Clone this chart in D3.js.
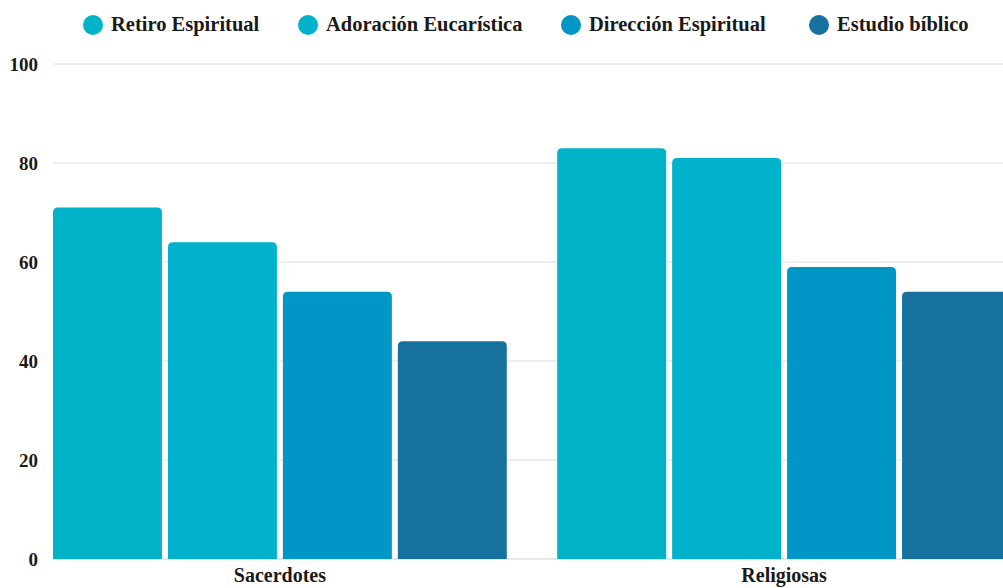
<!DOCTYPE html>
<html>
<head>
<meta charset="utf-8">
<script src="https://cdn.jsdelivr.net/npm/d3@7"></script>
<style>
  body { margin: 0; background: #fff; }
  svg text { font-family: 'Liberation Serif', 'Times New Roman', Tinos, 'DejaVu Serif', serif; font-weight: bold; fill: #1a1a1a; }
</style>
</head>
<body>
<svg id="chart" width="1003" height="588"></svg>
<script>
var groups = ['Sacerdotes', 'Religiosas'];
var series = ['Retiro Espiritual', 'Adoración Eucarística', 'Dirección Espiritual', 'Estudio bíblico'];
var sacerdotes = [71, 64, 54, 44];
var religiosas = [83, 81, 59, 54];
var yTicks = [0, 20, 40, 60, 80, 100];
var colors = ['#00b3c8', '#00b2cc', '#0096c5', '#16719f'];

var values = [sacerdotes, religiosas];
var fontStack = "'Liberation Serif', 'Times New Roman', Tinos, 'DejaVu Serif', serif";

var svg = d3.select('#chart');

var y = d3.scaleLinear().domain([0, 100]).range([559, 64]);
var x0 = d3.scaleBand().domain(groups).range([53, 1011]).paddingInner(0.1).paddingOuter(0);
var x1 = d3.scaleBand().domain(series).range([0, x0.bandwidth()]).paddingInner(0.052).paddingOuter(0);
var color = d3.scaleOrdinal().domain(series).range(colors);

// grid
svg.append('g')
    .selectAll('line')
    .data(yTicks)
    .enter()
    .append('line')
    .attr('x1', 53)
    .attr('x2', 1003)
    .attr('y1', function(d){return y(d);})
    .attr('y2', function(d){return y(d);})
    .attr('stroke', function(d){return d === 0 ? '#cfcfcf' : '#dedede';})
    .attr('stroke-width', 1);

// y axis labels
var yAxis = svg.append('g')
    .attr('transform', 'translate(38,0)')
    .call(d3.axisLeft(y).tickValues(yTicks).tickSize(0).tickPadding(0));
yAxis.select('.domain').remove();
yAxis.attr('font-family', null).attr('font-size', null);
yAxis.selectAll('text')
    .style('font-size', '19px')
    .style('font-family', fontStack)
    .style('font-weight', 'bold')
    .attr('fill', '#1a1a1a');

// bars with rounded tops
function barPath(x, w, top, bottom, r){
    r = Math.min(r, w / 2, bottom - top);
    return 'M' + x + ',' + bottom +
        'V' + (top + r) +
        'Q' + x + ',' + top + ' ' + (x + r) + ',' + top +
        'H' + (x + w - r) +
        'Q' + (x + w) + ',' + top + ' ' + (x + w) + ',' + (top + r) +
        'V' + bottom + 'Z';
}

var groupSel = svg.append('g')
    .selectAll('g')
    .data(groups)
    .enter()
    .append('g')
    .attr('transform', function(d){return 'translate(' + x0(d) + ',0)';});

groupSel.selectAll('path')
    .data(function(d, i){
        return series.map(function(s, j){return {key: s, value: values[i][j]};});
    })
    .enter()
    .append('path')
    .attr('d', function(d){return barPath(x1(d.key), x1.bandwidth(), y(d.value), y(0), 5);})
    .attr('fill', function(d){return color(d.key);});

// x axis labels
var xAxis = svg.append('g')
    .attr('transform', 'translate(0,' + 568 + ')')
    .call(d3.axisBottom(x0).tickSize(0).tickPadding(0));
xAxis.select('.domain').remove();
xAxis.attr('font-family', null).attr('font-size', null);
xAxis.selectAll('text')
    .style('font-size', '20px')
    .style('font-family', fontStack)
    .style('font-weight', 'bold')
    .attr('fill', '#1a1a1a');

// legend
var legendX = [93, 308, 571, 819];
var legend = svg.append('g')
    .selectAll('g')
    .data(series)
    .enter()
    .append('g')
    .attr('transform', function(d, i){return 'translate(' + legendX[i] + ',25)';});

legend.append('circle')
    .attr('r', 10)
    .attr('fill', function(d){return color(d);});

legend.append('text')
    .attr('x', 18)
    .attr('dy', '0.3em')
    .style('font-size', '20.5px')
    .text(function(d){return d;});
</script>
</body>
</html>
